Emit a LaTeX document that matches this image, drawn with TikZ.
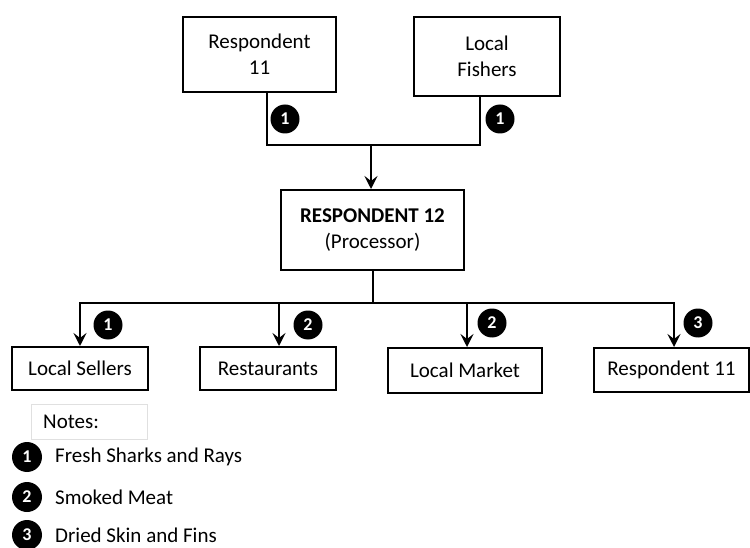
\documentclass[tikz,border=0pt]{standalone}
\usepackage{fontspec}
\setmainfont{Carlito}
\usetikzlibrary{arrows.meta}
\begin{document}
\begin{tikzpicture}[x=1pt,y=-1pt,
  every node/.style={font=\fontsize{21}{26}\selectfont},
  box/.style={draw=black,line width=2pt,fill=white,inner sep=0pt,align=center},
  badge/.style={circle,fill=black,text=white,inner sep=0pt,minimum size=29pt,
    font=\fontsize{18}{18}\selectfont\bfseries},
  link/.style={draw=black,line width=2pt},
  arrowlink/.style={link,-{Stealth[length=13pt,width=13pt,inset=5pt]}}]
\useasboundingbox (0,0) rectangle (750,548);

% suppliers
\node[box,minimum width=153pt,minimum height=75pt] (r11top) at (259.5,54.5) {Respondent\\11};
\node[box,minimum width=146pt,minimum height=79pt] (fishers) at (487,56.5) {Local\\Fishers};

% processor
\node[box,minimum width=183pt,minimum height=80pt] (proc) at (372.5,230)
  {\textbf{RESPONDENT 12}\\(Processor)};

% buyers
\node[box,minimum width=136pt,minimum height=43pt] (sellers) at (80,368.5) {Local Sellers};
\node[box,minimum width=136pt,minimum height=43pt] (rest) at (268,368.5) {Restaurants};
\node[box,minimum width=154pt,minimum height=45pt] (market) at (465,370.5) {Local Market};
\node[box,minimum width=155pt,minimum height=44pt] (r11) at (671.5,370) {Respondent 11};

% junction points
\coordinate (jtop) at (371,145);
\coordinate (jbot) at (373,303);

% supply lines
\draw[link] (r11top.south -| 267,0) |- (jtop);
\draw[link] (fishers.south -| 480,0) |- (jtop);
\draw[arrowlink] (jtop) -- (proc.north -| jtop);

% distribution lines
\draw[link] (proc.south -| jbot) -- (jbot);
\draw[arrowlink] (jbot) -| (sellers.north);
\draw[arrowlink] (jbot) -| (rest.north -| 279,0);
\draw[arrowlink] (jbot) -| (market.north -| 467,0);
\draw[arrowlink] (jbot) -| (r11.north -| 674,0);

% product badges
\node[badge] (b1) at (285,119) {1};
\node[badge] (b2) at (500,119) {1};
\node[badge] (b3) at (108,325) {1};
\node[badge] (b4) at (308,325) {2};
\node[badge] (b5) at (492,323) {2};
\node[badge] (b6) at (698,323) {3};

% notes
\node[draw=black!12,line width=1pt,minimum width=116pt,minimum height=35pt,inner sep=0pt] (notes) at (89,421.5) {};
\node[anchor=west,inner sep=0pt] (notestxt) at (43,422) {Notes:};
\node[badge,minimum size=30pt] (l1) at (27,457) {1};
\node[badge,minimum size=30pt] (l2) at (27,497) {2};
\node[badge,minimum size=30pt] (l3) at (27,535) {3};
\node[anchor=west,inner sep=0pt] (t1) at (55,457) {Fresh Sharks and Rays};
\node[anchor=west,inner sep=0pt] (t2) at (55,497) {Smoked Meat};
\node[anchor=west,inner sep=0pt] (t3) at (55,535) {Dried Skin and Fins};
\end{tikzpicture}
\end{document}
